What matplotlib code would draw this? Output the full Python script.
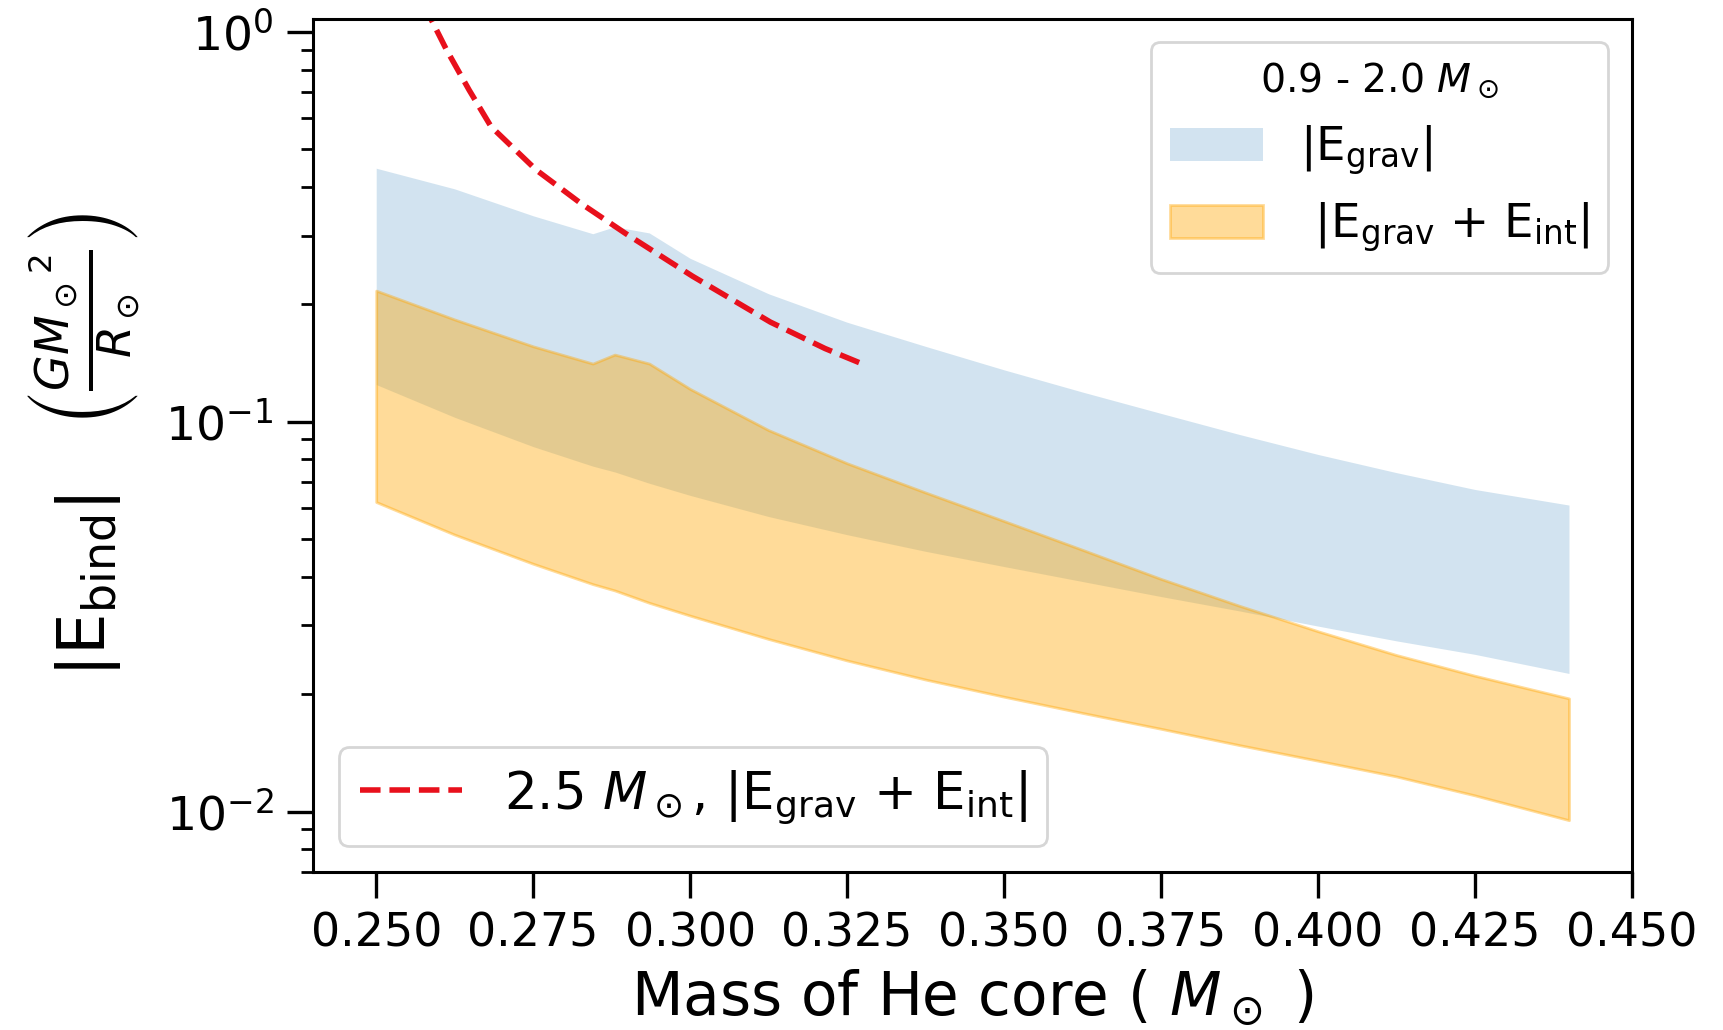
import numpy as np
import matplotlib
matplotlib.use("Agg")
import matplotlib.pyplot as plt

# He core mass grid (M_sun)
core_mass = [0.25, 0.2625, 0.275, 0.2845, 0.288, 0.2935, 0.30, 0.3125, 0.325, 0.3375,
             0.35, 0.3625, 0.375, 0.3875, 0.40, 0.4125, 0.425, 0.44]

# |E_grav| band (0.9 - 2.0 Msun progenitors)
egrav_upper = [0.4467, 0.3954, 0.3373, 0.3034, 0.3162, 0.3048, 0.2624, 0.2128, 0.1799, 0.1560,
               0.1358, 0.1191, 0.1050, 0.0927, 0.0824, 0.0740, 0.0670, 0.0611]
egrav_lower = [0.1245, 0.1026, 0.0863, 0.0769, 0.0743, 0.0695, 0.0647, 0.0571, 0.0513, 0.0465,
               0.0425, 0.0389, 0.0356, 0.0327, 0.0299, 0.0274, 0.0253, 0.0226]

# |E_grav + E_int| band
etot_upper = [0.2168, 0.1828, 0.1560, 0.1409, 0.1486, 0.1409, 0.1213, 0.0951, 0.0782, 0.0658,
              0.0556, 0.0469, 0.0395, 0.0337, 0.0290, 0.0252, 0.0223, 0.0195]
etot_lower = [0.0622, 0.0513, 0.0432, 0.0383, 0.0369, 0.0343, 0.0318, 0.0277, 0.0244, 0.0218,
              0.0197, 0.0179, 0.0163, 0.0148, 0.0135, 0.0123, 0.0110, 0.0095]

# 2.5 Msun model, |E_grav + E_int|
m25_core = [0.2575, 0.2612, 0.2648, 0.2683, 0.2755, 0.2826, 0.2897, 0.3004, 0.3128, 0.3215, 0.3282]
m25_ebind = [1.18, 0.899, 0.709, 0.571, 0.442, 0.363, 0.304, 0.236, 0.180, 0.154, 0.139]

plt.rcParams['font.family'] = ['DejaVu Sans']
plt.rcParams['mathtext.fontset'] = 'dejavusans'

fig = plt.figure(figsize=(8.62, 5.15), dpi=200)
ax = fig.add_axes([0.1818, 0.1535, 0.9465 - 0.1818, 0.9818 - 0.1535])

h1 = ax.fill_between(core_mass, egrav_lower, egrav_upper, color='C0', alpha=0.2,
                     linewidth=0, label=r'|E$_{\rm grav}$|')
h2 = ax.fill_between(core_mass, etot_lower, etot_upper, color='orange', alpha=0.4,
                     label=r' |E$_{\rm grav}$ + E$_{\rm int}$|')
l1, = ax.plot(m25_core, m25_ebind, color='#e8101c', linestyle='--', linewidth=2.0,
              label=r'2.5 $M_\odot$, |E$_{\rm grav}$ + E$_{\rm int}$|')

ax.set_yscale('log')
ax.set_xlim(0.24, 0.45)
ax.set_ylim(0.0070, 1.08)
ax.set_xticks([0.25, 0.275, 0.30, 0.325, 0.35, 0.375, 0.40, 0.425, 0.45])
ax.set_xticklabels(['0.250', '0.275', '0.300', '0.325', '0.350', '0.375', '0.400', '0.425', '0.450'])

ax.tick_params(axis='both', which='major', labelsize=16.5, length=9.4, width=1.2, pad=5)
ax.tick_params(axis='y', which='major', labelsize=17)
ax.tick_params(axis='both', which='minor', length=4.2, width=1.0)
for s in ax.spines.values():
    s.set_linewidth(1.1)

ax.set_xlabel(r'Mass of He core ( $M_\odot$ )', fontsize=21.5)
ax.set_ylabel(r'|E$_{\rm bind}$|   $\left(\frac{GM_\odot{}^2}{R_\odot}\right)$', fontsize=23.7,
              labelpad=8.5)

leg1 = ax.legend(handles=[h1, h2], loc='upper right', fontsize=16.8,
                 title=r'0.9 - 2.0 $M_\odot$', title_fontsize=14.2)
ax.add_artist(leg1)
ax.legend(handles=[l1], loc='lower left', fontsize=18.5)

fig.savefig('out.png', dpi=200)
